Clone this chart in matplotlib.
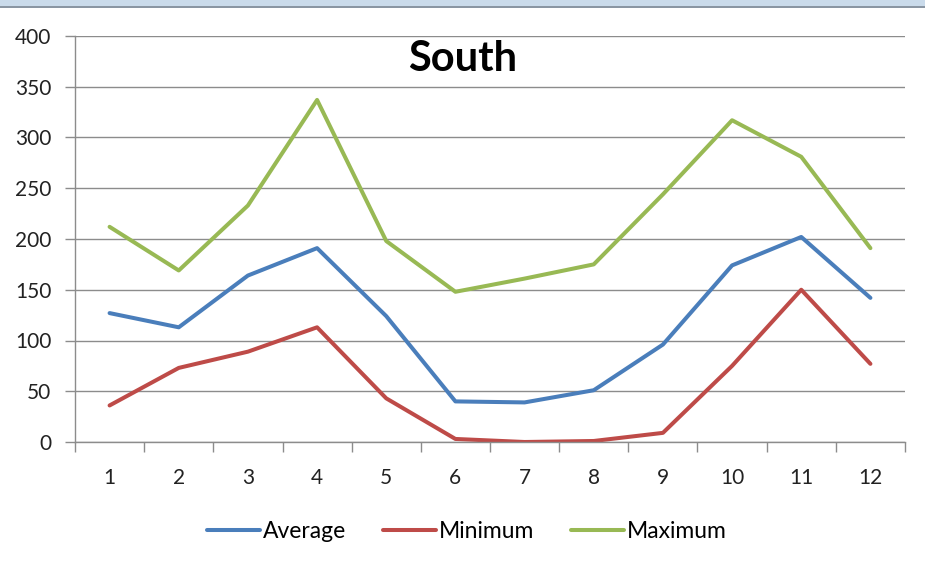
import matplotlib
matplotlib.use("Agg")
import matplotlib.pyplot as plt
from matplotlib.patches import Rectangle
from matplotlib.ticker import FixedLocator, NullFormatter

months = [1, 2, 3, 4, 5, 6, 7, 8, 9, 10, 11, 12]
average = [127, 113, 164, 191, 124, 40, 39, 51, 96, 174, 202, 142]
minimum = [36, 73, 89, 113, 43, 3, 0, 1, 9, 75, 150, 77]
maximum = [212, 169, 233, 337, 198, 148, 161, 175, 244, 317, 281, 191]

plt.rcParams['font.family'] = ['Lato', 'DejaVu Sans']

W, H = 925, 563
fig = plt.figure(figsize=(W / 100, H / 100), dpi=100)

# window strip along the top edge
fig.patches.append(Rectangle((0, 1 - 6 / H), 1, 6 / H, transform=fig.transFigure,
                             facecolor='#cadbeb', edgecolor='none'))
fig.patches.append(Rectangle((0, 1 - 8 / H), 1, 2 / H, transform=fig.transFigure,
                             facecolor='#8a96a3', edgecolor='none'))

ax = fig.add_axes([75 / W, (H - 442) / H, (905 - 75) / W, (442 - 36) / H])

ax.plot(months, average, color='#4a7ebb', lw=2.9, label='Average', solid_capstyle='round')
ax.plot(months, minimum, color='#be4b48', lw=2.9, label='Minimum', solid_capstyle='round')
ax.plot(months, maximum, color='#98b954', lw=2.9, label='Maximum', solid_capstyle='round')

ax.set_xlim(0.5, 12.5)
ax.set_ylim(0, 400)
ax.set_yticks(range(0, 401, 50))
ax.yaxis.grid(True, color='#8c8c8c', lw=1)
ax.set_axisbelow(True)

# category boundaries carry the tick marks, centres carry the labels
ax.xaxis.set_major_locator(FixedLocator([m + 0.5 for m in [0] + months]))
ax.xaxis.set_major_formatter(NullFormatter())
ax.xaxis.set_minor_locator(FixedLocator(months))
ax.set_xticklabels([str(m) for m in months], minor=True)
ax.tick_params(axis='x', which='major', length=7, color='#8c8c8c', width=1)
ax.tick_params(axis='x', which='minor', length=0, pad=19, labelsize=15, labelcolor='#222222')
ax.tick_params(axis='y', length=7, color='#8c8c8c', width=1, pad=10, labelsize=15,
               labelcolor='#222222')

for s in ('top', 'right'):
    ax.spines[s].set_visible(False)
for s in ('left', 'bottom'):
    ax.spines[s].set_color('#8c8c8c')
    ax.spines[s].set_linewidth(1)

fig.text(463 / W, (H - 59) / H, 'South', fontsize=30, fontweight='bold', color='black',
         ha='center', va='center')

fig.legend(loc='center', bbox_to_anchor=(467 / W, (H - 532) / H), ncol=3, frameon=False,
           fontsize=16.5, handlelength=2.3, handletextpad=0.15, columnspacing=1.6)

fig.savefig('out.png', dpi=100)
